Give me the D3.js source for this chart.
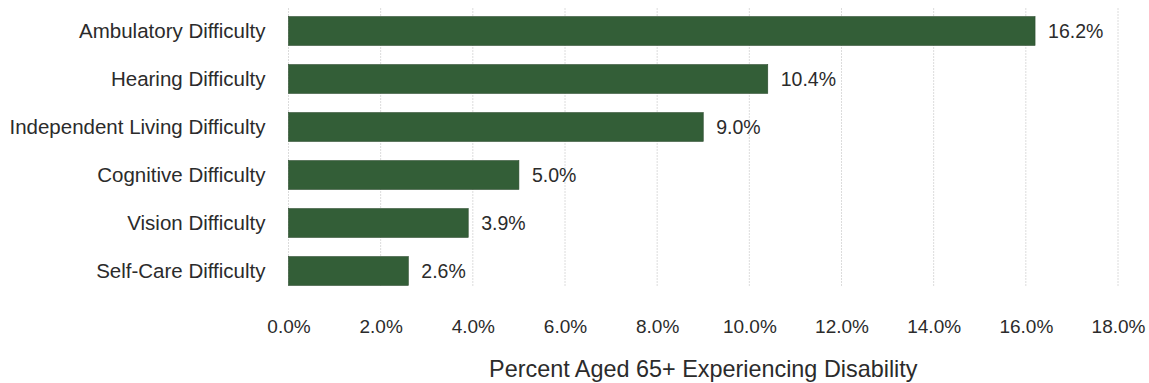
<!DOCTYPE html>
<html>
<head>
<meta charset="utf-8">
<script src="https://cdn.jsdelivr.net/npm/d3@7"></script>
<style>
  html, body { margin: 0; padding: 0; background: #fff; }
  svg { display: block; }
  text { font-family: "Liberation Sans", Arial, sans-serif; fill: #2b2b2b; }
</style>
</head>
<body>
<svg id="chart" width="1149" height="383"></svg>
<script>
// Disability types among adults aged 65+
const categories = [
  "Ambulatory Difficulty",
  "Hearing Difficulty",
  "Independent Living Difficulty",
  "Cognitive Difficulty",
  "Vision Difficulty",
  "Self-Care Difficulty"
];
const values = [16.2, 10.4, 9.0, 5.0, 3.9, 2.6];
const tickValues = [0, 2, 4, 6, 8, 10, 12, 14, 16, 18];
const axisTitle = "Percent Aged 65+ Experiencing Disability";

const svg = d3.select("#chart");
const plotLeft = 288.5, plotRight = 1118, plotTop = 7, plotBottom = 295;

const x = d3.scaleLinear().domain([0, 18]).range([plotLeft, plotRight]);
const y = d3.scaleBand().domain(categories).range([plotTop, plotBottom]).paddingInner(0.4).paddingOuter(0.2);

// vertical gridlines
svg.append("g").selectAll("line").data(tickValues).join("line")
  .attr("x1", d => x(d)).attr("x2", d => x(d))
  .attr("y1", 8).attr("y2", 286)
  .attr("stroke", "#dcdcdc").attr("stroke-width", 1)
  .attr("stroke-dasharray", "2,1");

// bars
svg.append("g").selectAll("rect").data(values).join("rect")
  .attr("x", x(0))
  .attr("y", (d, i) => y(categories[i]))
  .attr("width", d => x(d) - x(0))
  .attr("height", y.bandwidth())
  .attr("fill", "#335e37")
  .attr("stroke", "#2a4a2c").attr("stroke-width", 0.6);

// value labels
svg.append("g").selectAll("text").data(values).join("text")
  .attr("x", d => x(d) + 13)
  .attr("y", (d, i) => y(categories[i]) + y.bandwidth() / 2)
  .attr("dy", "0.37em")
  .attr("font-size", 19.5)
  .text(d => d.toFixed(1) + "%");

// category axis
const yAxis = svg.append("g").attr("transform", `translate(${plotLeft},0)`)
  .call(d3.axisLeft(y).tickSize(0).tickPadding(23));
yAxis.select(".domain").remove();
yAxis.selectAll("text").attr("font-size", 20.5).attr("fill", "#2b2b2b")
  .attr("dy", "0.36em")
  .style("font-family", "Liberation Sans, Arial, sans-serif");

// value axis
const xAxis = svg.append("g").attr("transform", `translate(0,316)`)
  .call(d3.axisBottom(x).tickValues(tickValues).tickSize(0).tickPadding(4)
    .tickFormat(d => d.toFixed(1) + "%"));
xAxis.select(".domain").remove();
xAxis.selectAll("text").attr("font-size", 19).attr("fill", "#2b2b2b")
  .style("font-family", "Liberation Sans, Arial, sans-serif");

// axis title
svg.append("text")
  .attr("x", (plotLeft + plotRight) / 2)
  .attr("y", 376.5)
  .attr("text-anchor", "middle")
  .attr("font-size", 23.4)
  .text(axisTitle);
</script>
</body>
</html>
